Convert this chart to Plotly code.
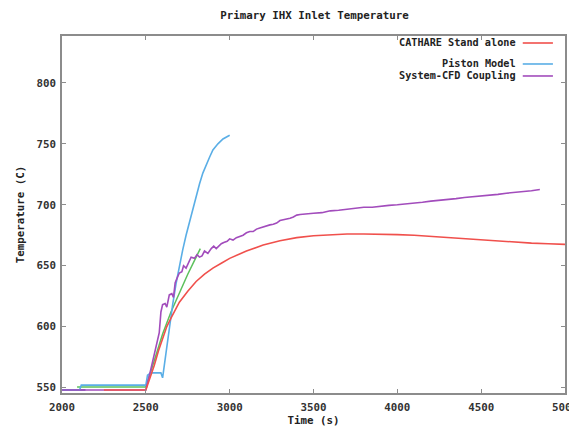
import plotly.graph_objects as go

# ---- data ----
red_t = [2250, 2500, 2520, 2550, 2575, 2600, 2625, 2650, 2675, 2700, 2750, 2800, 2850, 2900, 2950,
         3000, 3100, 3200, 3300, 3400, 3500, 3600, 3700, 3800, 3900, 4000, 4100, 4200, 4300,
         4400, 4500, 4600, 4700, 4800, 4900, 5000]
red_v = [548, 548, 556, 568, 580, 591, 600, 607, 614, 620, 629, 637, 643, 648, 652,
         656, 662, 667, 670.5, 673, 674.5, 675.5, 676, 676, 676, 675.5, 675, 674, 673,
         672, 671, 670, 669, 668.5, 668, 667.5]

blue_t = [2000, 2105, 2115, 2500, 2510, 2530, 2590, 2600, 2620, 2640, 2660, 2680, 2700, 2720,
          2740, 2760, 2780, 2800, 2820, 2840, 2860, 2880, 2900, 2930, 2960, 3000]
blue_v = [548, 548, 552, 552, 560, 562, 562, 558, 578, 600, 618, 635, 650, 663,
          675, 686, 697, 707, 717, 726, 733, 739, 745, 750, 754, 757]

purple_t = [2000, 2500, 2530, 2560, 2580, 2590, 2600, 2615, 2625, 2640, 2655, 2665, 2675, 2690,
            2700, 2715, 2725, 2740, 2755, 2770, 2790, 2805, 2820, 2835, 2850, 2870, 2890, 2905,
            2920, 2935, 2950, 2965, 2985, 3000, 3020, 3040, 3060, 3080, 3100, 3120, 3140, 3160,
            3180, 3200, 3220, 3240, 3260, 3280, 3300, 3320, 3340, 3360, 3380, 3400, 3420, 3450,
            3500, 3550, 3600, 3650, 3700, 3750, 3800, 3850, 3900, 3950, 4000, 4050, 4100, 4150,
            4200, 4250, 4300, 4350, 4400, 4450, 4500, 4550, 4600, 4650, 4700, 4750, 4800, 4850]
purple_v = [548, 548, 565, 582, 595, 612, 618, 619, 616, 626, 627, 624, 636, 641,
            644, 645, 650, 648, 653, 657, 656, 659, 657, 658, 662, 660, 664, 666,
            664, 666, 668, 669, 670, 672, 671, 673, 674, 675, 677, 678, 678, 680,
            681, 682, 683, 683.5, 684, 685, 687, 687.5, 688, 689, 690, 691.5, 692, 692.5,
            693, 693.5, 695, 695.5, 696.5, 697, 698, 698, 699, 699.5, 700, 700.5, 701.5, 702,
            703, 703.5, 704.5, 705, 706, 706.5, 707.5, 708, 708.5, 709.5, 710, 711, 711.5, 712.5]

green_t = [2090, 2500, 2550, 2600, 2650, 2700, 2750, 2800, 2825]
green_v = [550.5, 550.5, 572, 594, 612, 628, 643, 657, 664]

darkblue_t = [2000, 2140]
darkblue_v = [548, 548]

legend_names = ["CATHARE Stand alone", "Piston Model", "System-CFD Coupling"]
x_ticks = [2000, 2500, 3000, 3500, 4000, 4500, 5000]
y_ticks = [550, 600, 650, 700, 750, 800]

RED = "#f0504c"
BLUE = "#5aaee6"
PURPLE = "#a24cbc"
GREEN = "#5cc05c"
DARKBLUE = "#3a3ea8"

FONT = "DejaVu Sans Mono"

fig = go.Figure()
fig.add_trace(go.Scatter(x=darkblue_t, y=darkblue_v, mode="lines",
                         line=dict(color=DARKBLUE, width=1.5), showlegend=False))
fig.add_trace(go.Scatter(x=green_t, y=green_v, mode="lines",
                         line=dict(color=GREEN, width=1.5), showlegend=False))
fig.add_trace(go.Scatter(x=blue_t, y=blue_v, mode="lines",
                         line=dict(color=BLUE, width=1.6), showlegend=False))
fig.add_trace(go.Scatter(x=purple_t, y=purple_v, mode="lines",
                         line=dict(color=PURPLE, width=1.6), showlegend=False))
fig.add_trace(go.Scatter(x=red_t, y=red_v, mode="lines",
                         line=dict(color=RED, width=1.6), showlegend=False))

# manual gnuplot-style legend (text right-aligned, sample line to the right)
leg_rows = [0.9804, 0.9216, 0.8880]
leg_cols = [RED, BLUE, PURPLE]
for name, yy, col in zip(legend_names, leg_rows, leg_cols):
    fig.add_annotation(xref="paper", yref="paper", x=0.9066, y=yy, text="<b>%s</b>" % name,
                       showarrow=False, xanchor="right", yanchor="middle",
                       font=dict(family=FONT, size=10.2, color="#222"))
    fig.add_shape(type="line", xref="paper", yref="paper", x0=0.916, x1=0.976, y0=yy, y1=yy,
                  line=dict(color=col, width=1.6))

axis_common = dict(showgrid=False, zeroline=False, showline=True, linecolor="#8c8c8c",
                   linewidth=1.5, mirror="allticks", ticks="inside", ticklen=4,
                   tickcolor="#8c8c8c", tickwidth=1, automargin=False,
                   ticklabeloverflow="allow",
                   tickfont=dict(family=FONT, size=10.8, color="#333"))

# the page body has an 8px margin, so the figure is sized/offset to compensate
fig.update_layout(
    width=569, height=422,
    margin=dict(l=54, r=12, t=28, b=37),
    paper_bgcolor="white", plot_bgcolor="white",
    title=dict(text="<b>Primary IHX Inlet Temperature</b>", x=0.5387, xanchor="center",
               y=1 - 7 / 422, yanchor="middle",
               font=dict(family=FONT, size=10.8, color="#222")),
    xaxis=dict(range=[2000, 5000], tickvals=x_ticks,
               ticktext=["<b>%d</b>" % v for v in x_ticks], ticklabelstandoff=3,
               title=dict(text="<b>Time (s)</b>", standoff=1,
                          font=dict(family=FONT, size=10.8, color="#222")),
               **axis_common),
    yaxis=dict(range=[545.5, 838.5], tickvals=y_ticks,
               ticktext=["<b>%d</b>" % v for v in y_ticks], ticklabelstandoff=2,
               title=dict(text="<b>Temperature (C)</b>", standoff=10,
                          font=dict(family=FONT, size=10.8, color="#222")),
               **axis_common),
)

fig.write_html("out.html")
